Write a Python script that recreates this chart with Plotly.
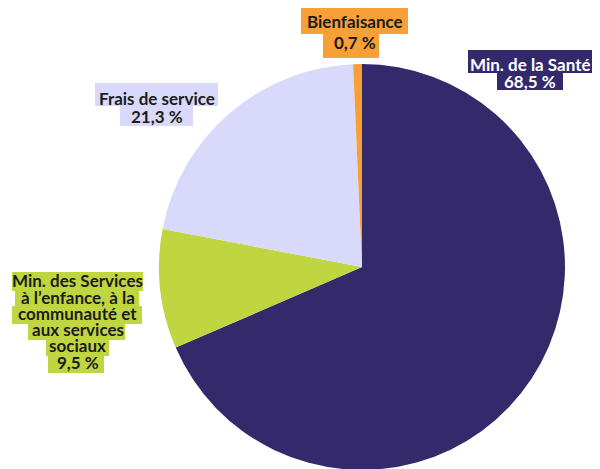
import plotly.graph_objects as go

# slices, in clockwise order from 12 o'clock
labels = [
    "Min. de la Santé",
    "Min. des Services à l’enfance, à la communauté et aux services sociaux",
    "Frais de service",
    "Bienfaisance",
]
values = [68.5, 9.5, 21.3, 0.7]
value_text = ["68,5 %", "9,5 %", "21,3 %", "0,7 %"]

# how each label is broken into lines
label_lines = [
    ["Min. de la Santé"],
    ["Min. des Services", "à l’enfance, à la", "communauté et", "aux services", "sociaux"],
    ["Frais de service"],
    ["Bienfaisance"],
]

colors = ["#33296b", "#bfd641", "#d9d9fb", "#f7a035"]
text_colors = ["#ffffff", "#1c1c1c", "#1c1c1c", "#1c1c1c"]

W, H = 600, 469
OFF = 8  # page body margin shifts the figure by 8px

# label layout (page pixels): text centre x, centre y per line,
# and the background box of each line (x0, x1, y0, y1)
label_pos = [
    (530, [64.5, 81.5]),
    (77.5, [280, 297, 313.5, 329.5, 345.5, 362.5]),
    (156.5, [98.5, 117]),
    (354.5, [21.5, 42.5]),
]
label_boxes = [
    [(468, 592, 50, 73), (497, 563, 72, 90)],
    [(12, 143, 272, 291), (15, 139, 290, 307), (12, 142, 306, 324),
     (28, 125, 323, 340), (46, 109, 339, 356), (48, 104, 355, 373)],
    [(95, 218, 83, 106), (120, 193, 105, 126)],
    [(301, 408, 6, 34), (323, 379, 33, 58)],
]


def px(x):
    return (x - OFF) / W


def py(y):
    return 1 - (y - OFF) / H


fig = go.Figure(go.Pie(
    labels=labels,
    values=values,
    sort=False,
    direction="clockwise",
    rotation=0,
    textinfo="none",
    hoverinfo="label+percent",
    marker=dict(colors=colors, line=dict(width=0)),
    domain=dict(x=[0.2517, 0.9283], y=[0.0149, 0.8806]),
    showlegend=False,
))

shapes = []
annotations = []
for i in range(len(labels)):
    lines = label_lines[i] + [value_text[i]]
    cx, ys = label_pos[i]
    for (x0, x1, y0, y1) in label_boxes[i]:
        shapes.append(dict(
            type="rect", xref="paper", yref="paper",
            x0=px(x0), x1=px(x1), y0=py(y1), y1=py(y0),
            fillcolor=colors[i], line=dict(width=0), layer="above",
        ))
    for line, cy in zip(lines, ys):
        annotations.append(dict(
            text=line,
            x=px(cx), y=py(cy),
            xref="paper", yref="paper",
            xanchor="center", yanchor="middle",
            showarrow=False,
            font=dict(family="Lato", size=17, color=text_colors[i], weight=700),
        ))

fig.update_layout(
    width=W, height=H,
    margin=dict(l=0, r=0, t=0, b=0),
    paper_bgcolor="white",
    plot_bgcolor="white",
    shapes=shapes,
    annotations=annotations,
)

fig.write_html("out.html")
